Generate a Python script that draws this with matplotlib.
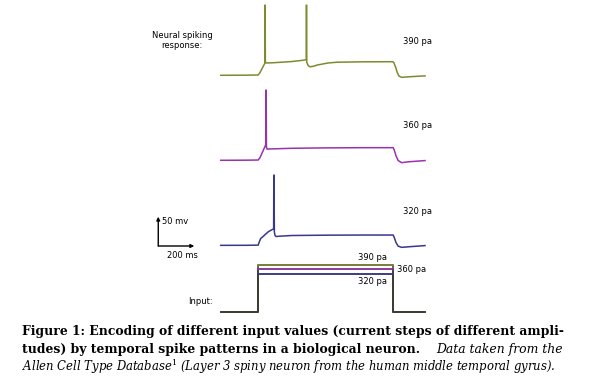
import numpy as np
import matplotlib.pyplot as plt

plt.rcParams['mathtext.fontset'] = 'dejavuserif'

# ---- data (time in ms, voltage in mV, current in pA) ----
t_390 = [4, 150, 212, 222, 232, 242, 249, 250, 251, 252, 258, 300, 400, 470, 479, 480, 481, 482,
         490, 500, 520, 540, 600, 650, 800, 960, 966, 975, 985, 995, 1010, 1050, 1139]
v_390 = [-72.5, -72.3, -72, -68, -62, -56, -52, 47, 47, -50, -51.5, -51, -49, -46.5, -45.5, 47, 47, -50,
         -56, -58, -57, -55, -51.5, -50.2, -49.5, -49.3, -51, -58, -68, -74, -76, -75, -73.5]

t_360 = [4, 150, 212, 222, 231, 241, 250, 254, 255, 256, 258, 262, 270, 400, 600, 800, 962,
         968, 978, 990, 1009, 1050, 1139]
v_360 = [-72.5, -72.3, -72, -68, -62, -55, -49, -46, 47, 47, -50, -53.5, -53.2, -52, -51.3, -51, -51,
         -55, -65, -73, -76.5, -75, -73]

t_320 = [4, 150, 212, 218, 226, 241, 255, 269, 285, 298, 299, 300, 302, 306, 312, 330, 400, 600,
         800, 962, 968, 978, 990, 1009, 1050, 1139]
v_320 = [-72.6, -72.5, -72.2, -67, -61, -57, -53, -49.3, -46.5, -44.5, 47, 47, -50, -56, -57.5, -57,
         -55.8, -55.2, -55, -55, -59, -68, -74, -76, -75, -73]

t_in = [4, 213, 213, 963, 963, 1139]
amps = [390, 360, 320]
labels = ['390 pa', '360 pa', '320 pa']
colors = ['#7f8a2c', '#9a32ad', '#37378f']

W, H = 589, 386
PX_MS = 0.18     # px per ms
PX_MV = 0.586    # px per mV
PX_PA = 0.119    # px per pA

fig = plt.figure(figsize=(W / 100, H / 100), dpi=100)


def px_rect(left, top, width, height):
    return [left / W, 1 - (top + height) / H, width / W, height / H]


X0, X1 = 130, 430
xlim = ((X0 - 220) / PX_MS, (X1 - 220) / PX_MS)


def trace_axes(base_y):
    top = base_y - (55 + 72) * PX_MV
    ax = fig.add_axes(px_rect(X0, top, X1 - X0, 140 * PX_MV))
    ax.set_xlim(*xlim)
    ax.set_ylim(-85, 55)
    ax.axis('off')
    return ax


traces = [(t_390, v_390), (t_360, v_360), (t_320, v_320)]
bases = [75, 160, 245]
axs = []
for (t, v), base, c in zip(traces, bases, colors):
    ax = trace_axes(base)
    ax.plot(t, v, color=c, lw=1.1, clip_on=False, solid_joinstyle='miter')
    axs.append(ax)

# scale bar on the bottom trace
ax_sb = axs[2]
corner = (-343, -73.7)
ax_sb.annotate('', xy=(-343, -23.7), xytext=corner,
               arrowprops=dict(arrowstyle='-|>', color='black', lw=1.0, mutation_scale=5, shrinkA=0, shrinkB=0))
ax_sb.annotate('', xy=(-143, -73.7), xytext=corner,
               arrowprops=dict(arrowstyle='-|>', color='black', lw=1.0, mutation_scale=5, shrinkA=0, shrinkB=0))

# input steps
top_in = 311.7 - 420 * PX_PA
ax_in = fig.add_axes(px_rect(X0, top_in, X1 - X0, 440 * PX_PA))
ax_in.set_xlim(*xlim)
ax_in.set_ylim(-20, 420)
ax_in.axis('off')
for a, c in zip(amps, colors):
    ax_in.plot(t_in, [0, 0, a, a, 0, 0], color='#3b3b33', lw=1.1)
for a, c in zip(amps, colors):
    ax_in.plot(t_in[2:4], [a, a], color=c, lw=1.1)

# ---- texts in pixel coordinates ----
tx = fig.add_axes([0, 0, 1, 1])
tx.set_xlim(0, W)
tx.set_ylim(H, 0)
tx.axis('off')
fs = 6
tx.text(182, 40.5, 'Neural spiking\nresponse:', fontsize=fs, ha='center', va='center', multialignment='center')
for lab, y in zip(labels, [41, 126, 211]):
    tx.text(403, y, lab, fontsize=fs, ha='left', va='center')
tx.text(162, 222, '50 mv', fontsize=fs, ha='left', va='center')
tx.text(167, 255.5, '200 ms', fontsize=fs, ha='left', va='center')
tx.text(372, 257, '390 pa', fontsize=fs, ha='center', va='center')
tx.text(397, 270, '360 pa', fontsize=fs, ha='left', va='center')
tx.text(372, 282, '320 pa', fontsize=fs, ha='center', va='center')
tx.text(213, 302, 'Input:', fontsize=fs, ha='right', va='center')

# caption
cfs = 8.9
serif = 'DejaVu Serif'
tx.text(22, 331, 'Figure 1: Encoding of different input values (current steps of different ampli-',
        fontsize=cfs, family=serif, fontweight='bold', ha='left', va='center')
tx.text(22, 349, 'tudes) by temporal spike patterns in a biological neuron.',
        fontsize=cfs, family=serif, fontweight='bold', ha='left', va='center')
tx.text(563, 349, 'Data taken from the', fontsize=cfs, family=serif, style='italic', ha='right', va='center')
tx.text(22, 367, 'Allen Cell Type Database$^{1}$ (Layer 3 spiny neuron from the human middle temporal gyrus).',
        fontsize=8.4, family=serif, style='italic', ha='left', va='center')

fig.savefig('out.png', dpi=100)
